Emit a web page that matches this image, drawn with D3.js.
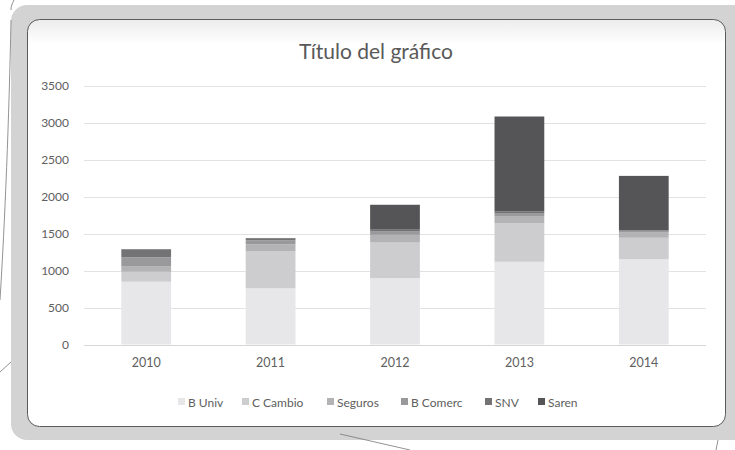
<!DOCTYPE html>
<html>
<head>
<meta charset="utf-8">
<script src="https://d3js.org/d3.v7.min.js"></script>
<style>
  body { margin: 0; background: #fff; }
  svg text { font-family: Lato, "Open Sans", sans-serif; }
</style>
</head>
<body>
<div id="chart"></div>
<script>
var width = 735;
var height = 450;

// data
var years = ["2010", "2011", "2012", "2013", "2014"];
var series = ["B Univ", "C Cambio", "Seguros", "B Comerc", "SNV", "Saren"];
var bUniv    = [850, 760, 900, 1120, 1155];
var cCambio  = [135, 500, 480, 520, 290];
var seguros  = [70, 95, 105, 100, 70];
var bComerc  = [125, 55, 50, 40, 25];
var snv      = [110, 30, 27, 20, 10];
var saren    = [0, 0, 330, 1287, 733];
var yTicks = [0, 500, 1000, 1500, 2000, 2500, 3000, 3500];
var colors = ["#e7e7e9", "#cdcdcf", "#b3b3b5", "#99999b", "#737375", "#555557"];

var values = [bUniv, cCambio, seguros, bComerc, snv, saren];
var rows = years.map(function(y, i) {
  var r = { year: y };
  series.forEach(function(s, k) { r[s] = values[k][i]; });
  return r;
});

var svg = d3.select("#chart").append("svg")
  .attr("width", width)
  .attr("height", height);

// background frame
svg.append("rect")
  .attr("x", 11).attr("y", 5)
  .attr("width", 740).attr("height", 435)
  .attr("rx", 16)
  .attr("fill", "#d3d3d4");

var defs = svg.append("defs");
var grad = defs.append("linearGradient").attr("id", "shade").attr("x1", 0).attr("y1", 0).attr("x2", 0).attr("y2", 1);
grad.append("stop").attr("offset", "0").attr("stop-color", "#ececec");
grad.append("stop").attr("offset", "0.06").attr("stop-color", "#ffffff");
grad.append("stop").attr("offset", "1").attr("stop-color", "#ffffff");

svg.append("rect")
  .attr("x", 27.5).attr("y", 19.5)
  .attr("width", 698).attr("height", 407)
  .attr("rx", 12)
  .attr("fill", "url(#shade)")
  .attr("stroke", "#5a5a5a")
  .attr("stroke-width", 1);

// stray lines of the page behind
var stray = svg.append("g").attr("fill", "none").attr("stroke", "#777").attr("stroke-width", 0.8);
stray.append("path").attr("d", "M14,0 C12,4 11,6 11,10");
stray.append("path").attr("d", "M11,20 C9,120 5,220 0,300");
stray.append("path").attr("d", "M0,372 L11,362");
stray.append("path").attr("d", "M340,434 L410,450");
stray.append("path").attr("d", "M718,440 L716,450");

var margin = { left: 84, right: 29, top: 86, bottom: 105 };
var x = d3.scaleBand()
  .domain(years)
  .range([margin.left, width - margin.right])
  .paddingInner(0.6)
  .paddingOuter(0.3);

var y = d3.scaleLinear()
  .domain([0, 3500])
  .range([344.5, 86]);

// gridlines
svg.append("g")
  .selectAll("line")
  .data(yTicks)
  .join("line")
  .attr("x1", margin.left)
  .attr("x2", width - margin.right)
  .attr("y1", function(d) { return Math.round(y(d)) + 0.5; })
  .attr("y2", function(d) { return Math.round(y(d)) + 0.5; })
  .attr("stroke", function(d) { return d === 0 ? "#d6d6d6" : "#e2e2e2"; })
  .attr("stroke-width", 1.2);

// y axis labels
var yAxis = d3.axisLeft(y).tickValues(yTicks).tickFormat(d3.format("d")).tickSize(0).tickPadding(0);
var ya = svg.append("g")
  .attr("transform", "translate(69,0)")
  .call(yAxis);
ya.select(".domain").remove();
ya.selectAll("text")
  .attr("fill", "#606060")
  .style("font-size", "12px");

// x axis labels
var xAxis = d3.axisBottom(x).tickSize(0).tickPadding(0);
var xa = svg.append("g")
  .attr("transform", "translate(0,358)")
  .call(xAxis);
xa.select(".domain").remove();
xa.selectAll("text")
  .attr("fill", "#606060")
  .style("font-size", "12.5px");

// stacked bars
var stack = d3.stack().keys(series);
var layers = stack(rows);

svg.append("g")
  .selectAll("g")
  .data(layers)
  .join("g")
  .attr("fill", function(d, i) { return colors[i]; })
  .selectAll("rect")
  .data(function(d) { return d; })
  .join("rect")
  .attr("x", function(d) { return x(d.data.year); })
  .attr("width", x.bandwidth())
  .attr("y", function(d) { return y(d[1]); })
  .attr("height", function(d) { return y(d[0]) - y(d[1]); });

// title
svg.append("text")
  .attr("x", 376)
  .attr("y", 59)
  .attr("text-anchor", "middle")
  .attr("fill", "#595959")
  .style("font-size", "21px")
  .text("Título del gráfico");

// legend
var legendX = [178, 242, 327, 401, 485, 538];
var legend = svg.append("g")
  .selectAll("g")
  .data(series)
  .join("g")
  .attr("transform", function(d, i) { return "translate(" + legendX[i] + ",402)"; });

legend.append("rect")
  .attr("x", 0).attr("y", -4)
  .attr("width", 7).attr("height", 7)
  .attr("fill", function(d, i) { return colors[i]; });

legend.append("text")
  .attr("x", 10)
  .attr("y", 4.5)
  .attr("fill", "#606060")
  .style("font-size", "12px")
  .text(function(d) { return d; });
</script>
</body>
</html>
